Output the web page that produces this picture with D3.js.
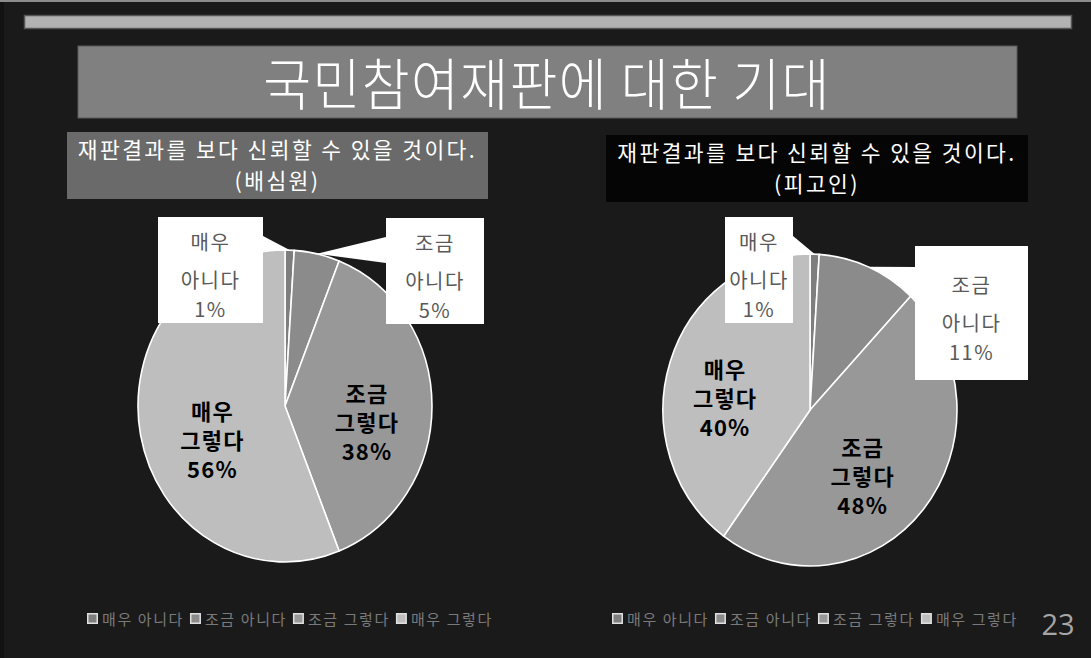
<!DOCTYPE html>
<html>
<head>
<meta charset="utf-8">
<script src="https://cdn.jsdelivr.net/npm/d3@7"></script>
<style>
  html, body { margin: 0; padding: 0; background: #1a1a1a; }
  svg { display: block; }
</style>
</head>
<body>
<div id="chart"></div>
<script>
// Chart values.
const categories = ['매우 아니다', '조금 아니다', '조금 그렇다', '매우 그렇다'];
const juryValues = [1, 5, 38, 56];
const defendantValues = [1, 11, 48, 40];
const chartTitle = '국민참여재판에 대한 기대';
const questionText = '재판결과를 보다 신뢰할 수 있을 것이다.';
const groupNames = ['(배심원)', '(피고인)'];
const pageNumber = '23';

const attrs = {
  svgWidth: 1091,
  svgHeight: 658,
  background: '#1a1a1a',
  sliceColors: ['#7e7e7e', '#8b8b8b', '#989898', '#bebebe'],
  radius: 147,
  stretchY: 1.061,
  font: '"Noto Sans CJK KR", "Noto Sans", sans-serif'
};

// Per-pie layout (boxes, callouts, label nudges).
const panels = [
  {
    values: juryValues,
    group: groupNames[0],
    cx: 285, cy: 406,
    head: { x: 67, y: 132, w: 421, h: 67, fill: '#6a6a6a', base: 158 },
    callouts: [
      { slice: 0, x: 158, y: 217, w: 105, h: 106, side: 'right', wedge: [19, 45] },
      { slice: 1, x: 386, y: 218, w: 98, h: 106, side: 'left', wedge: [19, 45] }
    ],
    inner: [
      { slice: 2, dx: -2, dy: 17 },
      { slice: 3, dx: 10, dy: 18 }
    ],
    legendX: 87
  },
  {
    values: defendantValues,
    group: groupNames[1],
    cx: 810, cy: 410,
    head: { x: 606, y: 135, w: 422, h: 67, fill: '#050505', base: 161 },
    callouts: [
      { slice: 0, x: 725, y: 217, w: 68, h: 106, side: 'right', wedge: [19, 45] },
      { slice: 1, x: 915, y: 246, w: 113, h: 134, side: 'left', wedge: [21, 54] }
    ],
    inner: [
      { slice: 2, dx: -12, dy: 10 },
      { slice: 3, dx: -5, dy: 17 }
    ],
    legendX: 612
  }
];

const svg = d3.select('#chart').append('svg')
  .attr('width', attrs.svgWidth)
  .attr('height', attrs.svgHeight)
  .style('font-family', attrs.font);

svg.append('rect')
  .attr('width', attrs.svgWidth)
  .attr('height', attrs.svgHeight)
  .attr('fill', attrs.background);

// Slide frame details.
svg.append('rect').attr('x', 0).attr('y', 0).attr('width', 4).attr('height', attrs.svgHeight).attr('fill', '#121212');
svg.append('rect').attr('x', 0).attr('y', 0).attr('width', attrs.svgWidth).attr('height', 2).attr('fill', '#8c8c8c');

// Top bar.
svg.append('rect')
  .attr('x', 24.5).attr('y', 15.5)
  .attr('width', 1047).attr('height', 13)
  .attr('fill', '#b2b2b2')
  .attr('stroke', '#555')
  .attr('stroke-width', 1.5);

// Title.
svg.append('rect')
  .attr('x', 78).attr('y', 46)
  .attr('width', 939).attr('height', 72)
  .attr('fill', '#808080')
  .attr('stroke', '#5a5a5a')
  .attr('stroke-width', 1);

svg.append('text')
  .attr('x', 547).attr('y', 0)
  .attr('transform', 'translate(0,105) scale(1,1.08)')
  .attr('text-anchor', 'middle')
  .attr('fill', '#fff')
  .attr('font-size', 52)
  .attr('font-weight', 300)
  .attr('letter-spacing', 1.4)
  .text(chartTitle);

const color = d3.scaleOrdinal().domain(categories).range(attrs.sliceColors);
const pie = d3.pie().sort(null).value(d => d.value);
const arc = d3.arc().innerRadius(0).outerRadius(attrs.radius);
const rimArc = d3.arc().innerRadius(attrs.radius).outerRadius(attrs.radius);
const labelArc = d3.arc().innerRadius(84).outerRadius(84);

panels.forEach(p => {
  const data = categories.map((c, i) => ({ name: c, value: p.values[i] }));
  const arcs = pie(data);
  const toScreen = pt => [p.cx + pt[0], p.cy + pt[1] * attrs.stretchY];

  // Subtitle box.
  svg.append('rect')
    .attr('x', p.head.x).attr('y', p.head.y)
    .attr('width', p.head.w).attr('height', p.head.h)
    .attr('fill', p.head.fill);

  const headText = svg.append('text')
    .attr('text-anchor', 'middle')
    .attr('fill', '#fff')
    .attr('font-size', 21.5)
    .attr('letter-spacing', 2.4);
  headText.append('tspan')
    .attr('x', p.head.x + p.head.w / 2).attr('y', p.head.base)
    .text(questionText);
  headText.append('tspan')
    .attr('x', p.head.x + p.head.w / 2).attr('y', p.head.base + 31)
    .text(p.group);

  // Callout pointers (behind the pie).
  p.callouts.forEach(c => {
    const tip = toScreen(rimArc.centroid(arcs[c.slice]));
    const ex = c.side === 'right' ? c.x + c.w : c.x;
    svg.append('polygon')
      .attr('points', [[ex, c.y + c.wedge[0]], tip, [ex, c.y + c.wedge[1]]].map(q => q.join(',')).join(' '))
      .attr('fill', '#fff');
  });

  // Pie.
  const g = svg.append('g')
    .attr('transform', `translate(${p.cx},${p.cy}) scale(1,${attrs.stretchY})`);

  g.selectAll('path.slice')
    .data(arcs)
    .join('path')
    .attr('class', 'slice')
    .attr('d', arc)
    .attr('fill', d => color(d.data.name))
    .attr('stroke', '#fff')
    .attr('stroke-width', 1.6)
    .attr('stroke-linejoin', 'round')
    .attr('vector-effect', 'non-scaling-stroke');

  // Callout boxes.
  p.callouts.forEach(c => {
    const d = arcs[c.slice];
    svg.append('rect')
      .attr('x', c.x).attr('y', c.y)
      .attr('width', c.w).attr('height', c.h)
      .attr('fill', '#fff');
    const mid = c.y + c.h / 2 + 18;
    const lines = d.data.name.split(' ').concat([d.data.value + '%']);
    const offs = [-38, 0, 29];
    svg.append('g').selectAll('text')
      .data(lines)
      .join('text')
      .attr('x', c.x + c.w / 2)
      .attr('y', (t, i) => mid + offs[i])
      .attr('text-anchor', 'middle')
      .attr('fill', '#595959')
      .attr('font-size', 20)
      .attr('letter-spacing', 1.5)
      .text(t => t);
  });

  // Inside labels.
  p.inner.forEach(l => {
    const d = arcs[l.slice];
    const c = toScreen(labelArc.centroid(d));
    const cx = c[0] + l.dx;
    const cy = c[1] + l.dy;
    const lines = d.data.name.split(' ').concat([d.data.value + '%']);
    svg.append('g').selectAll('text')
      .data(lines)
      .join('text')
      .attr('x', cx)
      .attr('y', (t, i) => cy + 8 + (i - 1) * 29)
      .attr('text-anchor', 'middle')
      .attr('fill', '#000')
      .attr('font-size', 22)
      .attr('font-weight', 'bold')
      .attr('letter-spacing', 1.2)
      .text(t => t);
  });

  // Legend.
  let lx = p.legendX;
  categories.forEach(name => {
    svg.append('rect')
      .attr('x', lx + 0.75).attr('y', 613.75)
      .attr('width', 9.5).attr('height', 9.5)
      .attr('fill', color(name))
      .attr('stroke', '#e0e0e0')
      .attr('stroke-width', 1.5);
    const t = svg.append('text')
      .attr('x', lx + 15).attr('y', 625)
      .attr('fill', '#7a7a7a')
      .attr('font-size', 15)
      .attr('letter-spacing', 1.6)
      .text(name);
    lx += 15 + t.node().getComputedTextLength() + 6;
  });
});

// Page number.
svg.append('text')
  .attr('x', 1058).attr('y', 635)
  .attr('text-anchor', 'middle')
  .attr('fill', '#a6a6a6')
  .attr('font-size', 29)
  .attr('font-family', '"Open Sans", sans-serif')
  .text(pageNumber);
</script>
</body>
</html>
